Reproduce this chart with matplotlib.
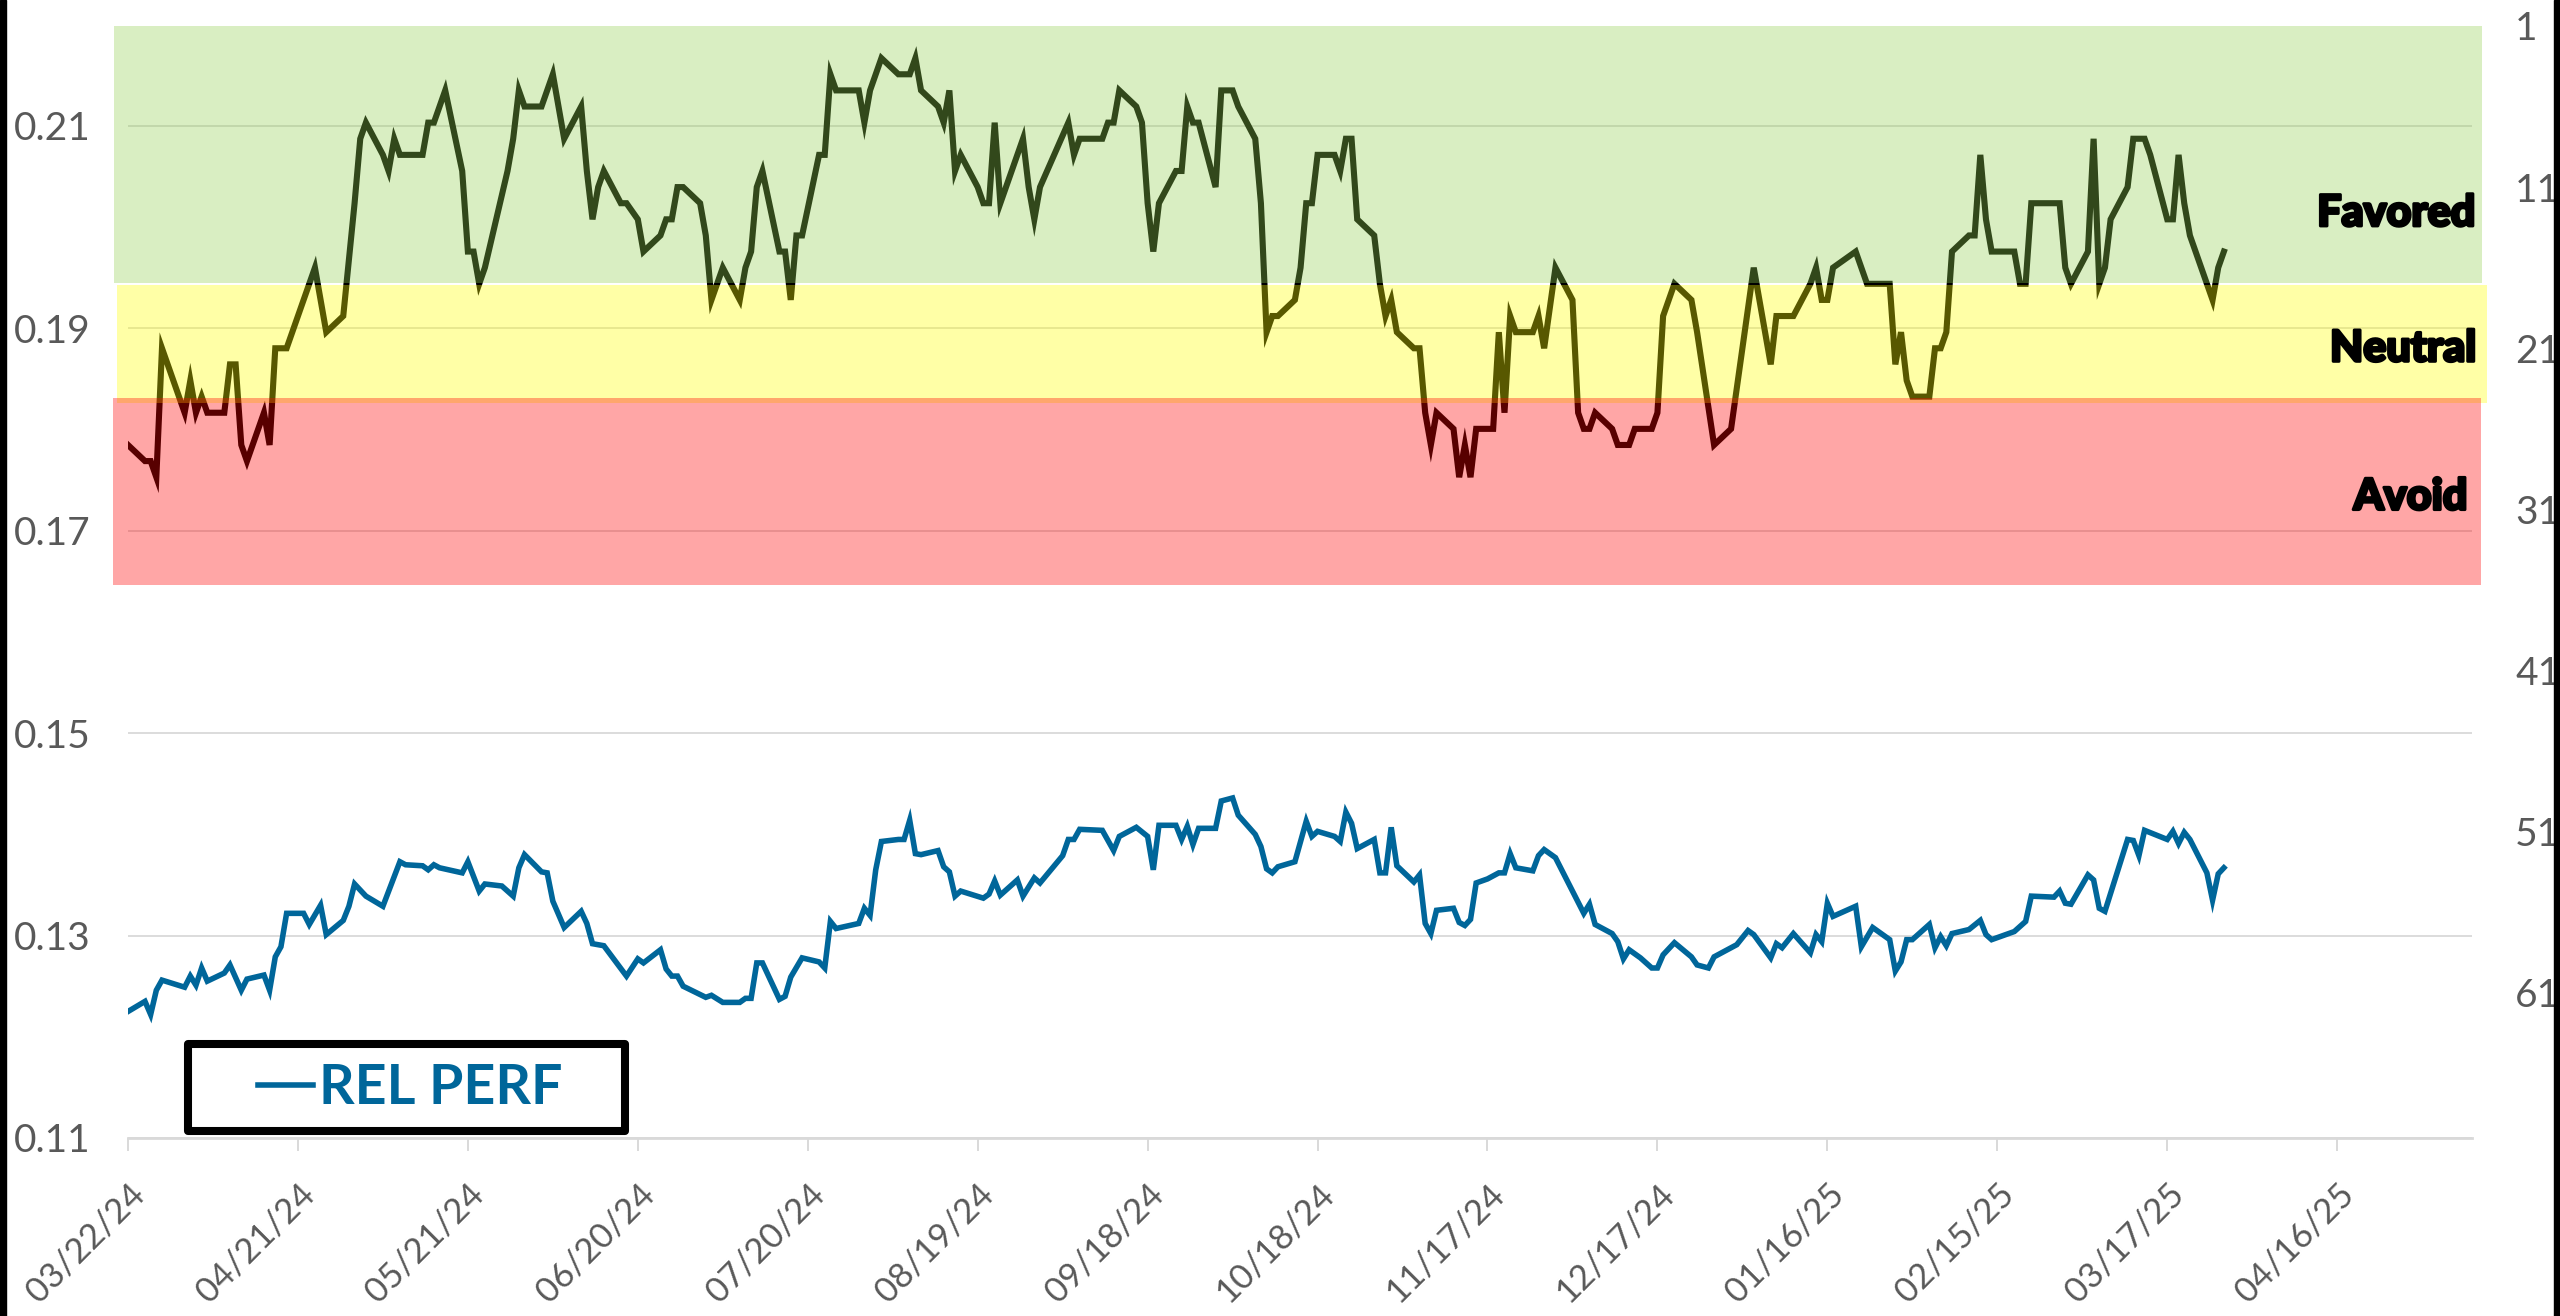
import matplotlib
matplotlib.use("Agg")
import matplotlib.pyplot as plt
import matplotlib.dates as mdates
import matplotlib.transforms as mtransforms
import matplotlib.patheffects as pe
from matplotlib.patches import Rectangle
import pandas as pd

plt.rcParams['font.family'] = ['Lato', 'DejaVu Sans']

START = pd.Timestamp('2024-03-22')

# Rank series (right axis, reversed): day offsets from START and rank values
rank_days = [0, 3, 4, 5, 6, 10, 11, 12, 13, 14, 17, 18, 19, 20, 21, 24, 25, 26, 28, 33, 35, 38, 40, 41, 42,
             45, 46, 47, 48, 52, 53, 54, 56, 59, 60, 61, 62, 63, 67, 68, 69, 70, 73, 75, 77, 80, 81, 82, 83,
             84, 87, 88, 90, 91,
             94, 95, 96, 97, 98, 101, 102, 103, 105, 108, 109, 110, 111, 112, 115, 116, 117, 118, 119, 122,
             123, 124, 125, 129, 130, 131, 133, 136, 138, 139, 140, 143, 144, 145, 146, 147, 150, 151, 152,
             153, 154, 158, 159, 160, 161, 166, 167, 168, 172, 173, 174, 175, 178, 179, 180, 181, 182, 185,
             186, 187, 188, 189, 192, 193, 195, 196, 199, 200, 201, 202, 203, 206, 207, 208, 209, 210, 213,
             214, 215, 216, 217, 220, 221, 222, 223, 224, 227, 228, 229, 230, 231, 234, 235, 236, 237, 238,
             241, 242, 243, 244, 245, 248, 249, 250, 252, 255, 256, 257, 258, 259, 262, 263, 265, 266, 269,
             270, 271, 273, 276, 277,
             280, 283, 287, 290, 291, 294, 297, 298, 299, 300, 301, 305, 307, 311, 312, 313, 314, 315, 318,
             319, 320, 321, 322, 325, 326, 327, 328, 329, 333, 334, 335, 336, 341, 342, 343, 346, 347, 348,
             349, 350, 353, 354, 356, 357, 360, 361, 362, 363, 364, 368, 369, 370]
rank_vals = [27, 28, 28, 29, 21, 25, 23, 25, 24, 25, 25, 22, 22, 27, 28, 25, 27, 21, 21, 16, 20, 19, 12, 8, 7,
             9, 10, 8, 9, 9, 7, 7, 5, 10, 15, 15, 17, 16, 10, 8, 5, 6, 6, 4, 8, 6, 10, 13, 11,
             10, 12, 12, 13, 15,
             14, 13, 13, 11, 11, 12, 14, 18, 16, 18, 16, 15, 11, 10, 15, 15, 18, 14, 14, 9,
             9, 4, 5, 5, 7, 5, 3, 4, 4, 3, 5, 6, 7, 5, 10, 9, 11, 12, 12,
             7, 12, 8, 11, 13, 11, 7, 9, 8, 8, 7, 7, 5, 6, 7, 12, 15, 12, 10,
             10, 6, 7, 7, 11, 5, 5, 6, 8, 12, 20, 19, 19, 18, 16, 12, 12, 9, 9,
             10, 8, 8, 13, 14, 17, 19, 18, 20, 21, 21, 25, 27, 25, 26, 29, 27, 29, 26,
             26, 20, 25, 19, 20, 20, 19, 21, 16, 18, 25, 26, 26, 25, 26, 27, 27, 26, 26,
             25, 19, 17, 18, 20,
             27, 26, 16, 22, 19, 19, 17, 16, 18, 18, 16, 15, 17, 17, 22, 20, 23, 24, 24,
             21, 21, 20, 15, 14, 14, 9, 13, 15, 15, 17, 17, 12, 12, 16, 17, 15, 8, 17,
             16, 13, 11, 8, 8, 9, 13, 13, 9, 12, 14, 18, 16, 15]

# REL PERF series (left axis)
perf_days = [0, 3, 4, 5, 6, 10, 11, 12, 13, 14, 17, 18, 20, 21, 24, 25, 26, 27, 28, 31, 32, 34, 35, 38, 39,
             40, 42, 45, 48, 49, 52, 53, 54, 55, 59, 60, 62, 63, 66, 68, 69, 70, 73, 74, 75, 77, 80, 81, 82,
             84, 88, 90, 91, 94, 95, 96, 97, 98, 102, 103, 105, 108, 109, 110, 111, 112, 115, 116, 117, 119,
             122, 123, 124, 125, 129, 130, 131, 132, 133, 136, 137, 138, 139, 140, 143, 144, 145, 146, 147,
             151, 152, 153, 154, 157, 158, 160, 161, 165, 166, 167, 168, 172, 174, 175, 178, 180, 181, 182,
             185, 186, 187, 188, 189, 192, 193, 195, 196, 199, 200, 201, 202, 203, 206, 207, 208, 209, 210,
             213, 214, 215, 216, 217, 220, 221, 222, 223, 224, 227, 228, 229, 230, 231, 234, 235, 236, 237,
             238, 240, 242, 243, 244, 245, 248, 249, 250, 252, 254, 256, 257, 258, 259, 262, 263, 264, 265,
             267, 269, 270, 271, 273, 276, 277, 279, 280, 284, 286, 287, 290, 291, 292, 294, 297, 298, 299,
             300, 301, 305, 306, 308, 311, 312, 313, 314, 315, 318, 319, 320, 321, 322, 325, 327, 328, 329,
             333, 335, 336, 340, 341, 342, 343, 346, 347, 348, 349, 353, 354, 355, 356, 360, 361, 362, 363,
             364, 367, 368, 369, 370]
perf_vals = [0.1225, 0.1235, 0.1222, 0.1246, 0.1256, 0.1249, 0.1260, 0.1251, 0.1268, 0.1255, 0.1263, 0.1271,
             0.1246, 0.1257, 0.1261, 0.1246, 0.1279, 0.1289, 0.1322, 0.1322, 0.1311, 0.1330, 0.1301, 0.1315,
             0.1329, 0.1351, 0.1339, 0.1329, 0.1373, 0.1370, 0.1369, 0.1365, 0.1370, 0.1367, 0.1362, 0.1373,
             0.1344, 0.1351, 0.1349, 0.1339, 0.1367, 0.1380, 0.1363, 0.1362, 0.1334, 0.1308, 0.1324, 0.1312,
             0.1292, 0.1290, 0.1260, 0.1277, 0.1273, 0.1286, 0.1267, 0.1260, 0.1260, 0.1250, 0.1239, 0.1241,
             0.1234, 0.1234, 0.1238, 0.1238, 0.1273, 0.1273, 0.1237, 0.1240, 0.1259, 0.1278, 0.1274, 0.1268,
             0.1314, 0.1307, 0.1312, 0.1327, 0.1320, 0.1365, 0.1393, 0.1395, 0.1395, 0.1414, 0.1381, 0.1380,
             0.1384, 0.1368, 0.1363, 0.1339, 0.1344, 0.1337, 0.1341, 0.1354, 0.1340, 0.1355, 0.1339, 0.1357,
             0.1352, 0.1379, 0.1395, 0.1395, 0.1405, 0.1404, 0.1384, 0.1398, 0.1407, 0.1398, 0.1365, 0.1409,
             0.1409, 0.1395, 0.1408, 0.1390, 0.1406, 0.1406, 0.1433, 0.1436, 0.1419, 0.1400, 0.1388, 0.1366,
             0.1362, 0.1368, 0.1373, 0.1393, 0.1413, 0.1398, 0.1403, 0.1398, 0.1393, 0.1422, 0.1411, 0.1386,
             0.1395, 0.1362, 0.1362, 0.1407, 0.1369, 0.1353, 0.1360, 0.1312, 0.1302, 0.1325, 0.1327, 0.1313,
             0.1310, 0.1316, 0.1352, 0.1356, 0.1362, 0.1362, 0.1381, 0.1367, 0.1364, 0.1379, 0.1385, 0.1377,
             0.1355, 0.1333, 0.1322, 0.1331, 0.1311, 0.1302, 0.1294, 0.1277, 0.1286, 0.1278, 0.1268, 0.1268,
             0.1281, 0.1293, 0.1279, 0.1271, 0.1268, 0.1279, 0.1291, 0.1305, 0.1301, 0.1278, 0.1292, 0.1288,
             0.1302, 0.1283, 0.1301, 0.1294, 0.1332, 0.1319, 0.1329, 0.1289, 0.1308, 0.1296, 0.1265, 0.1274,
             0.1296, 0.1296, 0.1311, 0.1288, 0.1299, 0.1290, 0.1302, 0.1306, 0.1315, 0.1301, 0.1296, 0.1304,
             0.1314, 0.1339, 0.1338, 0.1344, 0.1332, 0.1331, 0.1360, 0.1355, 0.1327, 0.1324, 0.1395, 0.1394,
             0.1379, 0.1404, 0.1395, 0.1403, 0.1391, 0.1402, 0.1395, 0.1362, 0.1335, 0.1361, 0.1367]

left_ticks = [0.11, 0.13, 0.15, 0.17, 0.19, 0.21]
right_ticks = [1, 11, 21, 31, 41, 51, 61]
tick_dates = pd.date_range('2024-03-22', '2025-04-16', freq='30D')

zone_names = ['Favored', 'Neutral', 'Avoid']
zone_top = [1.0, 17.07, 24.1]
zone_bottom = [16.97, 24.37, 35.68]
zone_colors = ['#92D050', '#FFFF00', '#FF0000']
zone_x0 = [-0.0060, -0.0047, -0.0064]
zone_x1 = [1.0043, 1.0064, 1.0038]
zone_label_rank = [12.6, 21.0, 30.2]
zone_label_x = [1.0013, 1.0017, 0.9979]

GRAY_TXT = '#595959'
GRID = '#d9d9d9'
BLUE = '#00669A'

W, H = 2560, 1316
fig = plt.figure(figsize=(W / 100, H / 100), dpi=100)
fig.patch.set_facecolor('white')
ax = fig.add_axes([128 / W, 1 - 1138 / H, (2472 - 128) / W, (1138 - 24.8) / H])
ax2 = ax.twinx()

rank_dates = [START + pd.Timedelta(days=d) for d in rank_days]
perf_dates = [START + pd.Timedelta(days=d) for d in perf_days]

# left axis
ax.set_ylim(0.11, 0.22)
ax.set_yticks(left_ticks)
ax.set_yticklabels([f'{v:.2f}' for v in left_ticks])
ax.grid(axis='y', color=GRID, lw=1.3)
ax.set_axisbelow(True)
ax.plot(perf_dates, perf_vals, color=BLUE, lw=4.0, label='REL PERF', zorder=3,
        solid_joinstyle='miter')

ax.set_xlim(START, START + pd.Timedelta(days=413.8))
ax.set_xticks(list(tick_dates))
ax.xaxis.set_major_formatter(mdates.DateFormatter('%m/%d/%y'))
for s in ['top', 'left', 'right']:
    ax.spines[s].set_visible(False)
ax.spines['bottom'].set_color(GRID)
ax.spines['bottom'].set_linewidth(2.0)
ax.tick_params(axis='x', length=9.5, width=1.4, color=GRID, direction='out', pad=19,
               labelsize=25, labelcolor=GRAY_TXT)
ax.tick_params(axis='y', length=0, pad=27, labelsize=28, labelcolor=GRAY_TXT)
for lbl in ax.get_xticklabels():
    lbl.set_rotation(45)
    lbl.set_ha('right')
    lbl.set_va('top')
    lbl.set_rotation_mode('anchor')

# right axis (rank, reversed)
ax2.set_ylim(70, 0.93)
ax2.set_yticks(right_ticks)
ax2.set_yticklabels([str(v) for v in right_ticks])
for s in ax2.spines.values():
    s.set_visible(False)
ax2.tick_params(axis='y', length=0, pad=31, labelsize=28, labelcolor=GRAY_TXT)

ax2.plot(rank_dates, rank_vals, color='black', lw=4.4, zorder=1, solid_joinstyle='miter')

blend = mtransforms.blended_transform_factory(ax2.transAxes, ax2.transData)
for name, top, bot, col, x0, x1, ly, lx in zip(zone_names, zone_top, zone_bottom, zone_colors,
                                                zone_x0, zone_x1, zone_label_rank, zone_label_x):
    ax2.add_patch(Rectangle((x0, top), x1 - x0, bot - top, transform=blend, facecolor=col,
                            edgecolor='none', alpha=0.35, zorder=2, clip_on=False))
    ax2.text(lx, ly, name, transform=blend, ha='right', va='center', fontsize=31,
             fontweight='black', color='black', zorder=5,
             path_effects=[pe.withStroke(linewidth=2.2, foreground='black')])

# legend
leg_box = Rectangle((188 / W, 1 - 1131 / H), (625 - 188) / W, (1131 - 1044) / H,
                    transform=fig.transFigure, facecolor='white', edgecolor='black',
                    linewidth=5.8, joinstyle='round', zorder=10)
fig.add_artist(leg_box)
leg = ax.legend(loc='center', bbox_to_anchor=(410 / W, 1 - 1088 / H), bbox_transform=fig.transFigure,
                frameon=False, handlelength=1.0, handletextpad=0.1, borderpad=0,
                prop={'size': 40, 'weight': 'bold'}, labelcolor=BLUE)
leg.set_zorder(11)
fig.add_artist(leg)

# black side borders
fig.add_artist(Rectangle((0, 0), 6 / W, 1, transform=fig.transFigure, color='black', zorder=20))
fig.add_artist(Rectangle((1 - 6 / W, 0), 6 / W, 1, transform=fig.transFigure, color='black', zorder=20))

fig.savefig('out.png', dpi=100, facecolor='white')
